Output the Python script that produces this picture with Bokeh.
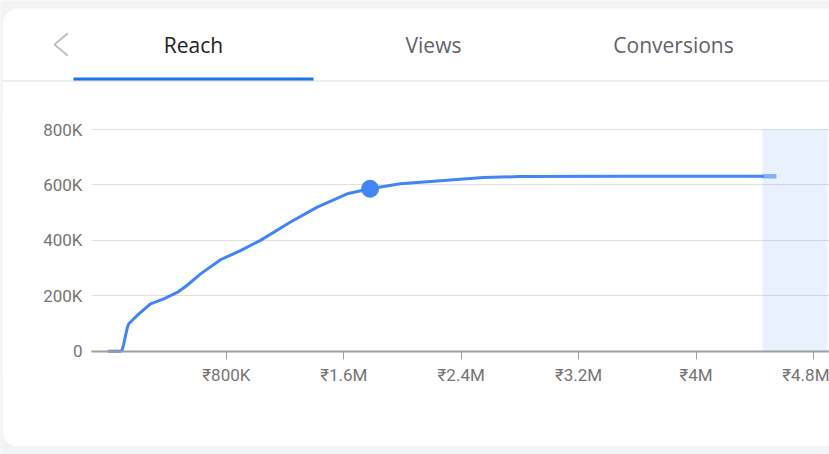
from bokeh.plotting import figure
from bokeh.models import Range1d, FixedTicker, ColumnDataSource
from bokeh.core.properties import value
from bokeh.embed import file_html
from bokeh.resources import INLINE

# ---------------- data ----------------
tab_names = ["Reach", "Views", "Conversions"]
active_tab = 0

spend = [0, 80000, 90000, 100000, 113000, 125000, 135000, 192000, 283000, 373000,
         465000, 533000, 624000, 760000, 896000, 1032000, 1237000, 1419000, 1623000,
         1779000, 1986000, 2123000, 2552000, 2800000, 3486000, 4453000]
reach = [0, 0, 5000, 25000, 57000, 85000, 99000, 129000, 171000, 189000,
         212000, 238000, 279000, 330000, 363000, 400000, 466000, 520000, 568000,
         586000, 604000, 610000, 627000, 630000, 631000, 631000]

ext_spend = [4453000, 4548000]
ext_reach = [631000, 631000]

point_spend = [1779000]
point_reach = [586000]

shade_start = 4453000
shade_end = 4896000

x_ticks = [800000, 1600000, 2400000, 3200000, 4000000, 4800000]
x_tick_labels = ["₹800K", "₹1.6M", "₹2.4M", "₹3.2M", "₹4M", "₹4.8M"]
y_ticks = [0, 200000, 400000, 600000, 800000]
y_tick_labels = ["0", "200K", "400K", "600K", "800K"]

# ---------------- layout constants (pixels) ----------------
W, H = 829, 454
X0_PX, X_PX_PER = 108.5, 117.4 / 800000      # x = 0 position and scale
Y0_PX, Y_PX_PER = 350.7, 221.7 / 800000      # y = 0 position and scale
PLOT_LEFT_PX = 91
BLUE = "#4285f4"
BG = "#f1f3f4"

x_start = -X0_PX / X_PX_PER
x_end = (W - X0_PX) / X_PX_PER
y_start = -(H - Y0_PX) / Y_PX_PER
y_end = Y0_PX / Y_PX_PER
x_plot_left = (PLOT_LEFT_PX - X0_PX) / X_PX_PER

p = figure(width=W, height=H, x_range=Range1d(x_start, x_end), y_range=Range1d(y_start, y_end),
           toolbar_location=None, output_backend="svg", min_border=0,
           outline_line_color=None, background_fill_color=BG, border_fill_color=BG)
p.extra_x_ranges = {"px": Range1d(0, W)}
p.extra_y_ranges = {"px": Range1d(H, 0)}

# card
try:
    p.quad(left=[2], right=[W + 40], top=[8], bottom=[446], fill_color="white",
           line_color=None, x_range_name="px", y_range_name="px", level="image",
           border_radius=16)
except Exception:
    p.quad(left=[2], right=[W + 40], top=[8], bottom=[446], fill_color="white",
           line_color=None, x_range_name="px", y_range_name="px", level="image")

# grid
p.xgrid.grid_line_color = None
p.ygrid.ticker = FixedTicker(ticks=y_ticks)
p.ygrid.grid_line_color = "#e0e0e0"
p.ygrid.grid_line_width = 1

# hide grid left of plot area
p.quad(left=[2], right=[PLOT_LEFT_PX], top=[110], bottom=[370], fill_color="white",
       line_color=None, x_range_name="px", y_range_name="px")
p.quad(left=[0], right=[2], top=[0], bottom=[H], fill_color=BG,
       line_color=None, x_range_name="px", y_range_name="px")

# shaded region
p.quad(left=[shade_start], right=[shade_end], bottom=[0], top=[800000],
       fill_color="#1a73e8", fill_alpha=0.1, line_color=None)

# axes
p.yaxis.fixed_location = x_plot_left
p.yaxis.ticker = FixedTicker(ticks=y_ticks)
p.yaxis.major_label_overrides = {t: l for t, l in zip(y_ticks, y_tick_labels)}
p.yaxis.axis_line_color = None
p.yaxis.major_tick_line_color = None
p.yaxis.minor_tick_line_color = None
p.yaxis.major_tick_out = 0
p.yaxis.major_tick_in = 0
p.yaxis.major_label_standoff = 9
p.yaxis.major_label_text_font = "Roboto"
p.yaxis.major_label_text_font_size = "17px"
p.yaxis.major_label_text_color = "#757575"

p.xaxis.fixed_location = 0
p.xaxis.bounds = (x_plot_left, x_end)
p.xaxis.ticker = FixedTicker(ticks=x_ticks)
p.xaxis.major_label_overrides = {t: l for t, l in zip(x_ticks, x_tick_labels)}
p.xaxis.axis_line_color = "#9e9e9e"
p.xaxis.axis_line_width = 2
p.xaxis.major_tick_line_color = "#9e9e9e"
p.xaxis.major_tick_line_width = 1
p.xaxis.minor_tick_line_color = None
p.xaxis.major_tick_out = 8
p.xaxis.major_tick_in = 0
p.xaxis.major_label_standoff = 6
p.xaxis.major_label_text_font = "Roboto"
p.xaxis.major_label_text_font_size = "17px"
p.xaxis.major_label_text_color = "#757575"

# data
p.line(spend, reach, line_color=BLUE, line_width=3, line_join="round", line_cap="round")
p.line(ext_spend, ext_reach, line_color=BLUE, line_alpha=0.6, line_width=4.5)
p.scatter(point_spend, point_reach, marker="circle", size=17, fill_color=BLUE, line_color=BLUE)

# tabs header
tab_w = 240
tab_x0 = 73
centers = [tab_x0 + tab_w * (i + 0.5) for i in range(len(tab_names))]
colors = ["#202124" if i == active_tab else "#5f6368" for i in range(len(tab_names))]
tsrc = ColumnDataSource(dict(x=centers, y=[44] * len(tab_names), text=tab_names, c=colors))
p.text(x="x", y="y", text="text", source=tsrc, text_color="c",
       text_font=value("Open Sans"), text_font_size="21px",
       text_align="center", text_baseline="middle",
       x_range_name="px", y_range_name="px")
p.segment(x0=[2], y0=[80.5], x1=[W], y1=[80.5], line_color="#dadce0", line_width=1,
          x_range_name="px", y_range_name="px")
p.quad(left=[tab_x0 + tab_w * active_tab], right=[tab_x0 + tab_w * (active_tab + 1)],
       top=[77], bottom=[80], fill_color="#1a73e8", line_color=None,
       x_range_name="px", y_range_name="px")
p.line(x=[67.3, 54, 67.3], y=[32.7, 44, 55.3], line_color="#bdc1c6", line_width=2,
       x_range_name="px", y_range_name="px")

open("out.html", "w").write(file_html(p, INLINE))
